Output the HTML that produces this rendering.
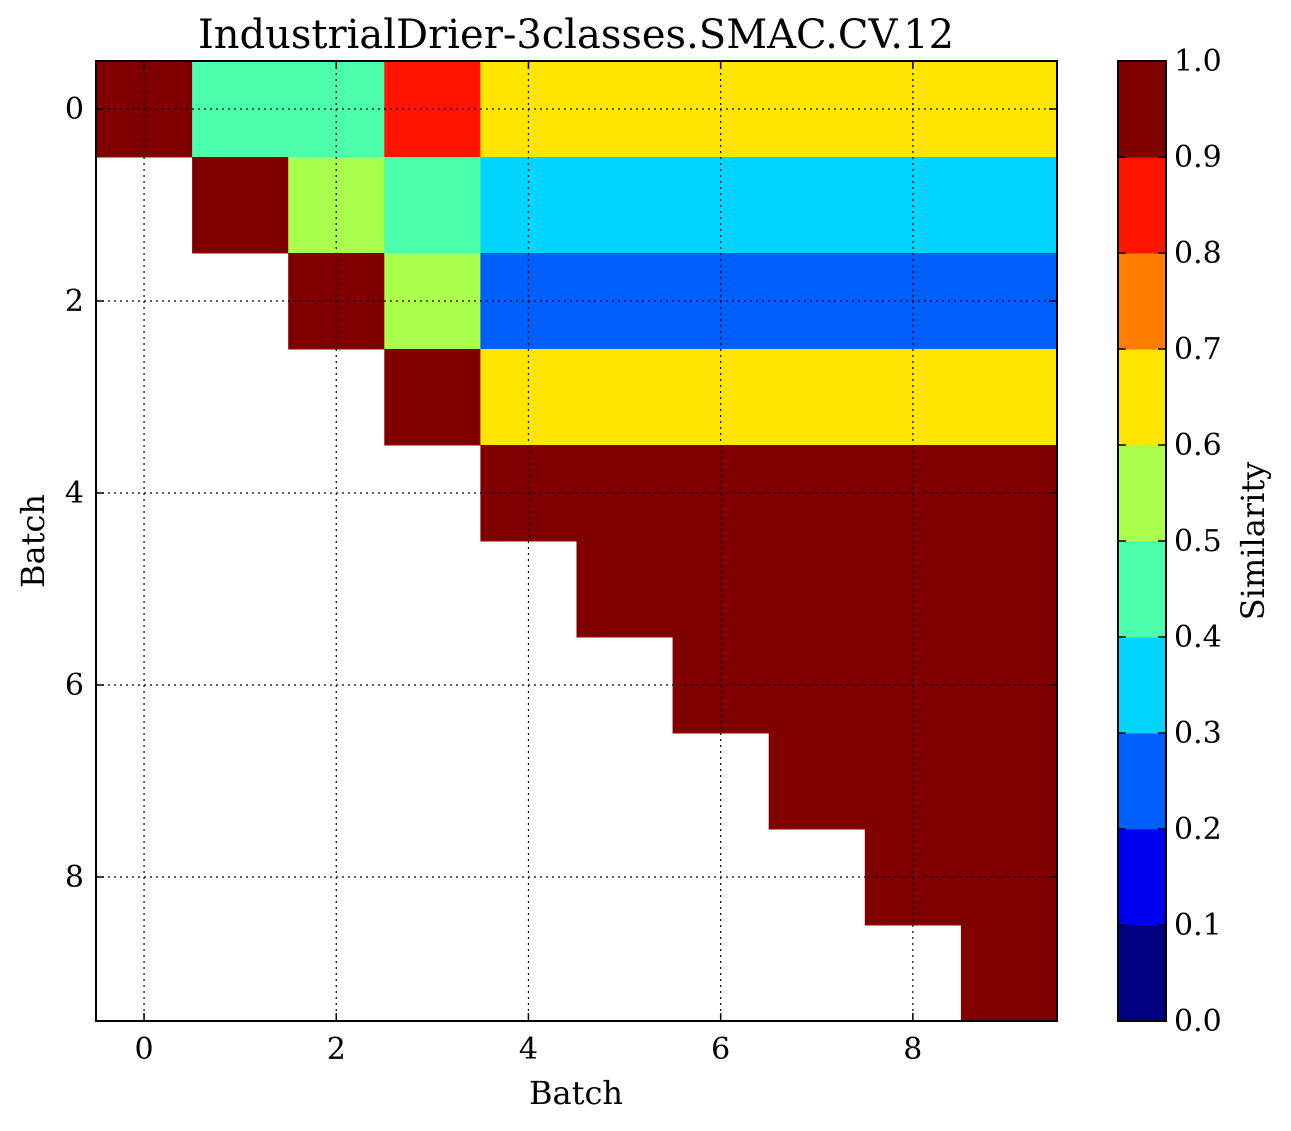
<!DOCTYPE html>
<html><head><meta charset="utf-8"><style>
html,body{margin:0;padding:0;background:#fff;}
svg{display:block;font-family:"DejaVu Serif","Liberation Serif",serif;}
</style></head><body>
<svg id="chart" width="1291" height="1131" viewBox="0 0 1291 1131" xmlns="http://www.w3.org/2000/svg">
<text x="576" y="48" font-size="40" text-anchor="middle">IndustrialDrier-3classes.SMAC.CV.12</text>
<g id="cells"></g><g id="grid"></g><g id="ticks"></g><g id="cbar"></g>
<text x="576" y="1104" font-size="32" text-anchor="middle">Batch</text>
<text transform="translate(44,541) rotate(-90)" font-size="32" text-anchor="middle">Batch</text>
<text transform="translate(1264,541) rotate(-90)" font-size="32" text-anchor="middle">Similarity</text>
</svg>
<script>
const batches=[0,1,2,3,4,5,6,7,8,9];
const row0=[1.0,0.45,0.45,0.85,0.65,0.65,0.65,0.65,0.65,0.65];
const row1=[null,1.0,0.55,0.45,0.35,0.35,0.35,0.35,0.35,0.35];
const row2=[null,null,1.0,0.55,0.25,0.25,0.25,0.25,0.25,0.25];
const row3=[null,null,null,1.0,0.65,0.65,0.65,0.65,0.65,0.65];
const row4=[null,null,null,null,1,1,1,1,1,1];
const row5=[null,null,null,null,null,1,1,1,1,1];
const row6=[null,null,null,null,null,null,1,1,1,1];
const row7=[null,null,null,null,null,null,null,1,1,1];
const row8=[null,null,null,null,null,null,null,null,1,1];
const row9=[null,null,null,null,null,null,null,null,null,1];
const matrix=[row0,row1,row2,row3,row4,row5,row6,row7,row8,row9];
const axisTicks=[0,2,4,6,8];
const cbarTicks=[0.0,0.1,0.2,0.3,0.4,0.5,0.6,0.7,0.8,0.9,1.0];
const jet=["#000080","#0000f1","#0060ff","#00d4ff","#4cffaa","#aaff4c","#ffe500","#ff7d00","#ff1400","#800000"];
const NS="http://www.w3.org/2000/svg";
const L=96,R=1057,T=61,B=1021;
const cw=(R-L)/10,ch=(B-T)/10;
const xs=v=>L+(v+0.5)*cw, ys=v=>T+(v+0.5)*ch;
const CB={x:1118,w:48,t:61,b:1021};
const cs=v=>CB.b-v*(CB.b-CB.t);
function color(v){return jet[Math.min(9,Math.floor(v*10+1e-9))];}
function mk(tag,attrs,parent){const e=document.createElementNS(NS,tag);for(const k in attrs)e.setAttribute(k,attrs[k]);document.getElementById(parent).appendChild(e);return e;}
matrix.forEach((row,r)=>row.forEach((v,c)=>{if(v===null)return;
 const e=mk('rect',{x:xs(c)-cw/2,y:ys(r)-ch/2,width:cw+0.5,height:ch+0.5,fill:color(v)},'cells');
 
 }));
axisTicks.forEach(t=>{
 let g=mk('line',{x1:xs(t),x2:xs(t),y1:T,y2:B,stroke:'#000','stroke-dasharray':'2,4','stroke-width':1.2},'grid');
 
 g=mk('line',{x1:L,x2:R,y1:ys(t),y2:ys(t),stroke:'#000','stroke-dasharray':'2,4','stroke-width':1.2},'grid');
 
 [[xs(t),B,xs(t),B-8],[xs(t),T,xs(t),T+8],[L,ys(t),L+8,ys(t)],[R,ys(t),R-8,ys(t)]].forEach(p=>{
  const k=mk('line',{x1:p[0],y1:p[1],x2:p[2],y2:p[3],stroke:'#000','stroke-width':1.5},'ticks');
  });
 let tx=mk('text',{x:xs(t),y:B+38,'font-size':30,'text-anchor':'middle'},'ticks');tx.textContent=t;
 
 tx=mk('text',{x:L-12,y:ys(t)+10,'font-size':30,'text-anchor':'end'},'ticks');tx.textContent=t;
 
});
const fr=mk('rect',{x:L,y:T,width:R-L,height:B-T,fill:'none',stroke:'#000','stroke-width':2},'ticks');

jet.forEach((c,i)=>{const e=mk('rect',{x:CB.x,y:cs((i+1)/10),width:CB.w,height:cs(i/10)-cs((i+1)/10)+0.5,fill:c},'cbar');
 });
cbarTicks.forEach(v=>{
 let k=mk('line',{x1:CB.x+CB.w,x2:CB.x+CB.w-8,y1:cs(v),y2:cs(v),stroke:'#000','stroke-width':1.5},'cbar');
 
 k=mk('line',{x1:CB.x,x2:CB.x+8,y1:cs(v),y2:cs(v),stroke:'#000','stroke-width':1.5},'cbar');
 
 const t=mk('text',{x:CB.x+CB.w+8,y:cs(v)+10,'font-size':30},'cbar');t.textContent=v.toFixed(1);
 });
const cf=mk('rect',{x:CB.x,y:CB.t,width:CB.w,height:CB.b-CB.t,fill:'none',stroke:'#000','stroke-width':2},'cbar');

</script>
</body></html>
